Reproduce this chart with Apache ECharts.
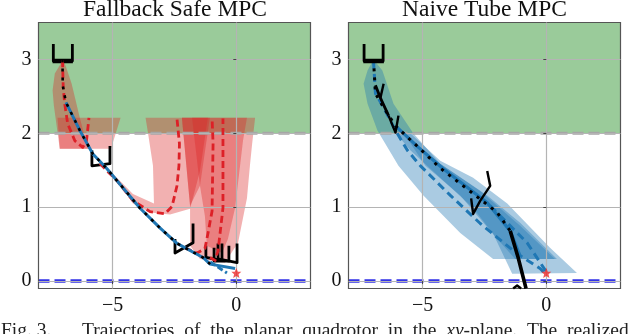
<!DOCTYPE html>
<html><head><meta charset="utf-8">
<style>html,body{margin:0;padding:0;background:#fff}#c{width:640px;height:334px}</style>
<script src="https://cdn.jsdelivr.net/npm/echarts@6/dist/echarts.min.js"></script>
</head><body><div id="c"></div>
<script>
const titles = ['Fallback Safe MPC', 'Naive Tube MPC'];
const xTicks = [-5, 0];
const yTicks = [0, 1, 2, 3];
const unsafeRegion = [[-8,2],[3,2],[3,3.5],[-8,3.5]];
const upperBound = [[-8,2],[3,2]];
const lowerBound = [[-8,0],[3,0]];
const goal = [[0,0.11]];

// Fallback Safe MPC
const redTube1 = [[-7,3],[-7.34,2.81],[-7.43,2.58],[-7.38,2.38],[-7.14,1.79],[-6,1.79],[-6.33,2.21],[-6.66,2.67],[-6.89,2.9]];
const redTube2 = [[-7.23,2.21],[-4.68,2.21],[-5.07,1.79],[-7.14,1.79]];
const redTube3 = [[-5.52,1.63],[-4.83,1.36],[-4.18,1.05],[-3.49,0.93],[-2.68,0.9],[-1.87,0.98],[-1.47,1.49],[-1.15,2.21],[-3.67,2.21],[-3.57,2],[-3.37,1.56],[-3.33,1.05],[-4.18,1.18],[-4.83,1.4]];
const redTube4 = [[-2.2,2.21],[-1.87,1.02],[-1.87,0.48],[-1.47,0.3],[-0.46,0.25],[0.07,0.52],[0.43,1.12],[0.55,1.56],[0.64,1.86],[0.76,2.21]];
const redTube5 = [[-2.2,2.21],[-1.87,1.02],[-1.47,1.29],[-1.07,2.21]];
const redTube6 = [[-1.79,2.21],[-1.47,1.29],[-1.27,0.88],[-1.19,0.48],[-0.58,0.38],[-0.34,0.57],[-0.05,0.99],[0.27,1.9],[0.43,2.21]];
const redPlan1 = [[-7.03,2.99],[-7,2.62],[-6.94,2.4],[-6.82,2.13],[-6.53,1.9],[-6.21,1.81],[-6.06,1.9],[-6,2.08],[-5.96,2.21]];
const redPlan2 = [[-5.52,1.59],[-4.83,1.36],[-4.18,1.09],[-3.49,0.94],[-2.89,0.91],[-2.6,1.01],[-2.4,1.29],[-2.32,1.56],[-2.3,1.86],[-2.4,2.2]];
const redPlan3 = [[-2.08,0.45],[-1.59,0.38],[-1.27,0.44],[-1.15,0.64],[-0.98,0.95],[-0.94,1.86],[-0.98,2.2]];
const redPlan4 = [[-1.06,0.32],[-0.86,0.28],[-0.74,0.41],[-0.66,0.64],[-0.54,0.99],[-0.54,2.2]];
const leftBlue = [[-6.89,2.42],[-6.33,2.04],[-5.8,1.72],[-5.23,1.52],[-3.9,0.99],[-3.09,0.72],[-2.4,0.51],[-1.35,0.32],[-1.06,0.23],[-0.05,0.17]];
const leftBlueBranch = [[-1.06,0.26],[-0.38,0.11]];
const leftPath = [[-7.03,3],[-7.02,2.65],[-6.89,2.42],[-6.33,2.04],[-5.8,1.72],[-5.23,1.52],[-3.9,0.99],[-3.09,0.72],[-2.4,0.51],[-1.35,0.32],[-1.06,0.23]];
const leftDrone1 = [[-7.4,3.21],[-7.4,2.98],[-6.63,2.98],[-6.63,3.21]];
const leftDrone1Base = [[-7.43,2.98],[-6.61,2.98]];
const leftDrone2 = [[-5.84,1.77],[-5.84,1.56],[-5.11,1.59],[-5.11,1.83]];
const leftDrone3 = [[-2.48,0.57],[-2.48,0.38],[-1.75,0.52],[-1.75,0.78]];
const leftDrone4 = [[-1.23,0.48],[-1.23,0.32],[-0.58,0.28],[-0.58,0.51]];
const leftDrone5 = [[-0.74,0.51],[-0.74,0.3],[0.03,0.25],[0.03,0.51]];
const leftDrone6 = [[-0.9,0.45],[-0.9,0.27],[-0.3,0.27],[-0.3,0.48]];

// Naive Tube MPC
const blueTube1 = [[-6.99,3],[-7.23,2.85],[-7.39,2.67],[-7.23,2.4],[-6.83,2.04],[-5.98,1.56],[-4.97,1.16],[-3.48,0.65],[-2.15,0.3],[0.43,0.3],[-1.06,0.79],[-2.39,1.16],[-4.29,1.59],[-5.38,2],[-6.18,2.4],[-6.63,2.85]];
const blueTube2 = [[-6.18,2.04],[-5.5,2],[-4.29,1.63],[-2.96,1.4],[-1.58,1.05],[0.15,0.45],[1.24,0.11],[-1.38,0.1],[-2.15,0.64],[-2.96,0.99],[-4.29,1.4],[-5.5,1.77]];
const blueTube3 = [[-5.7,1.97],[-4.29,1.59],[-2.67,1.22],[-1.06,0.75],[0.35,0.3],[-1.26,0.3],[-2.27,0.68],[-3.48,1.16],[-4.89,1.56]];
const bluePlan1 = [[-6.99,2.98],[-6.91,2.54],[-6.58,2.35],[-6.1,2.04],[-5.62,1.77],[-5.09,1.56],[-3.88,1.16],[-2.67,0.78],[-1.18,0.37],[-0.25,0.17],[-0.05,0.1]];
const bluePlan2 = [[-6.1,2.1],[-5.17,1.81],[-4.17,1.52],[-2.39,1.06],[-1.46,0.68],[-1.06,0.34]];
const bluePlan3 = [[-2.27,1.02],[-0.78,0.52],[0.03,0.11]];
const rightPathDashed = [[-6.99,3],[-6.91,2.54],[-6.58,2.35],[-6.1,2.1],[-5.17,1.81],[-4.29,1.53],[-3.48,1.32],[-1.99,0.93],[-1.46,0.68]];
const rightPathSolid = [[-1.46,0.68],[-1.14,0.32],[-0.82,-0.1]];
const rightDrone1 = [[-7.37,3.21],[-7.37,2.98],[-6.6,2.98],[-6.6,3.21]];
const rightDrone1Base = [[-7.4,2.98],[-6.57,2.98]];
const rightDrone2a = [[-6.91,2.65],[-6.71,2.48],[-6.38,2.24]];
const rightDrone2b = [[-6.58,2.67],[-6.71,2.48]];
const rightDrone3 = [[-5.98,2.24],[-6.1,2.01],[-6.38,2.24]];
const rightDrone4 = [[-2.39,1.49],[-2.27,1.29],[-2.67,1.09],[-2.96,0.91],[-3.04,1.12]];
const rightDrone5 = [[-1.34,-0.1],[-1.18,-0.06],[-1.02,-0.1]];

const RED='rgba(220,40,40,0.36)', BLUE='rgba(31,119,180,0.38)', GREEN='#9ACB9A';
const font='"Liberation Serif", serif';
const star='path://M0,-10L2.9,-3.1L9.5,-3.1L4.2,1.3L5.9,8.1L0,4.4L-5.9,8.1L-4.2,1.3L-9.5,-3.1L-2.9,-3.1Z';

function poly(idx, pts, color){
  return {type:'custom', xAxisIndex:idx, yAxisIndex:idx, z:1, silent:true, data:pts, encode:{x:0,y:1},
    renderItem:(p,api)=> p.dataIndex===0 ? {type:'polygon', shape:{points:pts.map(q=>api.coord(q))}, style:{fill:color}} : null};
}
function line(idx, pts, color, width, dash, z){
  return {type:'line', xAxisIndex:idx, yAxisIndex:idx, data:pts, showSymbol:false, symbol:'none', silent:true, animation:false,
    z:z===undefined?7:z, lineStyle:{color, width, type:dash||'solid', cap:'butt', join:'round'}};
}
function common(idx){
  return [
    poly(idx, unsafeRegion, GREEN),
    line(idx, upperBound, '#A6A6A6', 3, [11,5], 2),
    line(idx, lowerBound, '#3232E8', 3.5, [11,5], 2)
  ];
}
function goalSeries(idx){
  return {type:'scatter', xAxisIndex:idx, yAxisIndex:idx, data:goal, symbol:star, symbolSize:10, z:9, silent:true,
    itemStyle:{color:'#EE2A2A'}};
}
const RL='#DD2027', BL='#1F77B4', K='#000';
const DW=2.8;
const series=[
  ...common(0),
  poly(0,redTube1,RED),poly(0,redTube2,RED),poly(0,redTube3,RED),poly(0,redTube4,RED),poly(0,redTube5,RED),poly(0,redTube6,RED),
  line(0,leftDrone1,K,DW),line(0,leftDrone1Base,K,4.5),line(0,leftDrone2,K,DW),line(0,leftDrone3,K,DW),line(0,leftDrone4,K,DW),line(0,leftDrone5,K,DW),line(0,leftDrone6,K,DW),
  line(0,redPlan1,RL,2.8,[7,4],7),line(0,redPlan2,RL,2.8,[7,4],7),line(0,redPlan3,RL,2.8,[7,4],7),line(0,redPlan4,RL,2.8,[7,4],7),
  line(0,leftBlue,BL,3,null,7),line(0,leftBlueBranch,BL,3,[6,3],7),
  line(0,leftPath,K,2.6,[3,6],8),
  goalSeries(0),
  ...common(1),
  poly(1,blueTube1,BLUE),poly(1,blueTube2,BLUE),poly(1,blueTube3,BLUE),
  line(1,bluePlan1,BL,3,[8,5],7),line(1,bluePlan2,BL,3.2,null,7),line(1,bluePlan3,BL,3,[8,5],7),
  line(1,rightPathDashed,K,3,[3,6],8),line(1,rightPathSolid,K,3.6,null,8),
  line(1,rightDrone1,K,DW),line(1,rightDrone1Base,K,4.5),line(1,rightDrone2a,K,DW),line(1,rightDrone2b,K,2.4),line(1,rightDrone3,K,2.4),line(1,rightDrone4,K,2.4),line(1,rightDrone5,K,2.4),
  goalSeries(1)
];
const grids=[{left:38.5,width:272,top:22.5,height:266},{left:348.5,width:272,top:22.5,height:266}];
function xAx(i){return {type:'value',gridIndex:i,min:-8,max:3,z:6,
  axisLine:{show:false},
  axisTick:{show:true,customValues:xTicks,length:3,lineStyle:{color:'#444'}},
  axisLabel:{customValues:xTicks,color:'#111',fontFamily:font,fontSize:20,margin:7,formatter:v=>String(v).replace('-','\u2212')},
  splitLine:{show:true,lineStyle:{color:'#B4B4B4',width:1.2}}};}
function yAx(i){return {type:'value',gridIndex:i,min:-0.1,max:3.5,z:6,
  axisLine:{show:false},
  axisTick:{show:true,customValues:yTicks,length:3,lineStyle:{color:'#444'}},
  axisLabel:{customValues:yTicks,color:'#111',fontFamily:font,fontSize:20,margin:7},
  splitLine:{show:true,lineStyle:{color:'#B4B4B4',width:1.2}}};}
const option={animation:false,backgroundColor:'#fff',
  title:[
    {text:titles[0],left:170,textAlign:'center',top:-7,textStyle:{fontFamily:font,fontSize:23.5,fontWeight:'normal',color:'#111'}},
    {text:titles[1],left:479.5,textAlign:'center',top:-7,textStyle:{fontFamily:font,fontSize:23.5,fontWeight:'normal',color:'#111'}}
  ],
  grid:grids.map(g=>({...g,show:true,z:5,backgroundColor:'transparent',borderColor:'#555',borderWidth:1.2})),
  xAxis:[xAx(0),xAx(1)],yAxis:[yAx(0),yAx(1)],series,
  graphic:[
    {type:'text',left:1,top:321,style:{text:'Fig. 3.',font:'19.5px '+font,fill:'#222'}},
    {type:'text',left:82,top:321,style:{text:'Trajectories  of  the  planar  quadrotor  in  the  {i|xy}-plane.  The  realized',
      font:'19.5px '+font,fill:'#222',rich:{i:{font:'italic 19.5px '+font,fill:'#222'}}}}
  ]
};
echarts.init(document.getElementById('c')).setOption(option);
</script></body></html>
